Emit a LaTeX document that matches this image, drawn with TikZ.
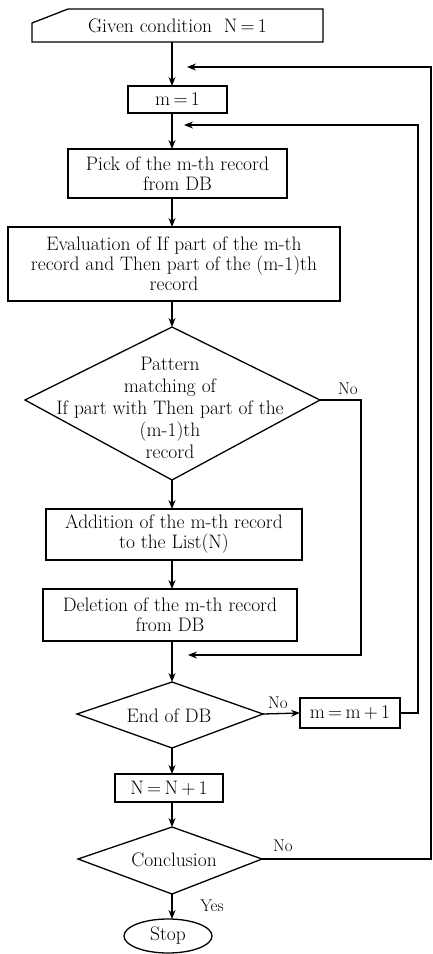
\documentclass[tikz,border=0pt]{standalone}
\usetikzlibrary{arrows.meta,shapes.geometric}
\newcommand{\eqs}{\,=\,}
\newcommand{\pls}{\,+\,}
\begin{document}
\begin{tikzpicture}[x=1pt,y=-1pt,line width=1.3pt,
  arr/.style={-{Stealth[length=9pt,width=7pt]}},
  tfont/.style={font=\fontsize{19.5}{20}\selectfont},
  box/.style={draw,rectangle,inner sep=0pt,outer sep=0pt,align=center,tfont},
  txt/.style={inner sep=0pt,outer sep=0pt,align=center,tfont},
  lbl/.style={inner sep=0pt,font=\fontsize{17}{18}\selectfont}]
\useasboundingbox (0,0) rectangle (432,954);
\coordinate (X) at (172,0);
\coordinate (RA) at (431,0);
\coordinate (RB) at (418,0);
\coordinate (RC) at (361,0);
% start card
\node[txt,minimum width=291pt,minimum height=33pt] (given) at (177.5,25.5) {Given condition\ \ N\eqs 1};
\draw (given.south west) -- ([yshift=-14pt]given.north west) -- ([xshift=36pt]given.north west) -- (given.north east) -- (given.south east) -- cycle;
\node[box,minimum width=99pt,minimum height=27pt] (m1) at (177.5,99.5) {m\eqs 1};
\node[box,minimum width=219pt,minimum height=49pt] (pick) at (177.5,173.5) {Pick of the m-th record\\from DB};
\node[box,minimum width=332pt,minimum height=74pt] (eval) at (174,264) {Evaluation of If part of the m-th\\record and Then part of the (m-1)th\\record};
% diamond 1
\coordinate (d1t) at (172,327);
\coordinate (d1r) at (320,400);
\coordinate (d1b) at (172,480);
\coordinate (d1l) at (25,400);
\draw (d1t) -- (d1r) -- (d1b) -- (d1l) -- cycle;
\node[txt,font=\fontsize{19.5}{22}\selectfont] (d1) at (170,408) {Pattern\\matching of\\If part with Then part of the\\(m-1)th\\record};
\node[box,minimum width=256pt,minimum height=51pt] (add) at (174,534.5) {Addition of the m-th record\\to the List(N)};
\node[box,minimum width=254pt,minimum height=52pt] (del) at (170,615) {Deletion of the m-th record\\from DB};
% diamond 2
\coordinate (d2t) at (172,682);
\coordinate (d2r) at (263,714);
\coordinate (d2b) at (172,748);
\coordinate (d2l) at (77,714);
\draw (d2t) -- (d2r) -- (d2b) -- (d2l) -- cycle;
\node[txt] (d2) at (169,716) {End of DB};
\node[box,minimum width=100pt,minimum height=30pt] (mm) at (350,713) {m\eqs m\pls 1};
\node[box,minimum width=108pt,minimum height=28pt] (nn) at (169,788) {N\eqs N\pls 1};
% diamond 3
\coordinate (d3t) at (172,827);
\coordinate (d3r) at (262,859);
\coordinate (d3b) at (172,894);
\coordinate (d3l) at (78,859);
\draw (d3t) -- (d3r) -- (d3b) -- (d3l) -- cycle;
\node[txt] (d3) at (174,860) {Conclusion};
\node[draw,ellipse,inner sep=0pt,outer sep=0pt,minimum width=88pt,minimum height=34pt,tfont] (stop) at (168,936) {Stop};
% entry points on main line
\coordinate (in1) at (187,67);
\coordinate (in2) at (184,125);
\coordinate (in3) at (188,655);
% main flow
\draw[arr] (given.south -| X) -- (m1.north -| X);
\draw[arr] (m1.south -| X) -- (pick.north -| X);
\draw[arr] (pick.south -| X) -- (eval.north -| X);
\draw[arr] (eval.south -| X) -- (d1t);
\draw[arr] (d1b) -- (add.north -| X);
\draw[arr] (add.south -| X) -- (del.north -| X);
\draw[arr] (del.south -| X) -- (d2t);
\draw[arr] (d2b) -- (nn.north -| X);
\draw[arr] (nn.south -| X) -- (d3t);
\draw[arr] (d3b) -- (stop.north -| X);
\draw[arr] (d2r) -- (mm.west);
% loops
\draw[arr] (d1r) -- (d1r -| RC) -- (in3 -| RC) -- (in3);
\draw[arr] (mm.east) -- (mm.east -| RB) -- (in2 -| RB) -- (in2);
\draw[arr] (d3r) -- (d3r -| RA) -- (in1 -| RA) -- (in1);
% labels
\node[lbl] (no1) at (348,389) {No};
\node[lbl] (no2) at (278,703) {No};
\node[lbl] (no3) at (283,846) {No};
\node[lbl] (yes) at (212,906) {Yes};
\end{tikzpicture}
\end{document}
